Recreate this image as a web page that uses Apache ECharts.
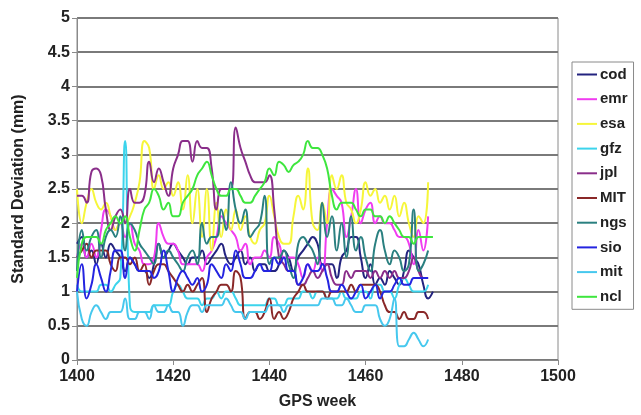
<!DOCTYPE html>
<html>
<head>
<meta charset="utf-8">
<script src="https://cdn.jsdelivr.net/npm/echarts@6/dist/echarts.min.js"></script>
<style>
html,body{margin:0;padding:0;background:#fff;}
#chart{width:641px;height:415px;}
</style>
</head>
<body>
<div id="chart"></div>
<script>
const weekStart = 1400;
const xTicks = [1400, 1420, 1440, 1460, 1480, 1500];
const yTicks = [0, 0.5, 1, 1.5, 2, 2.5, 3, 3.5, 4, 4.5, 5];
const seriesNames = ['cod','emr','esa','gfz','jpl','MIT','ngs','sio','mit','ncl'];

const cod = [1.7,1.8,1.5,1.6,1.4,1.7,1.5,1.7,1.6,1.5,1.3,1.5,1.4,1.3,1.3,1.2,1.4,1.7,1.5,1.6,1.7,1.6,1.5,1.4,1.5,1.5,1.6,1.4,1.5,1.6,1.7,1.5,1.4,1.5,1.6,1.4,1.5,1.3,1.4,1.4,1.3,1.3,1.4,1.6,1.5,1.3,1.5,1.6,1.7,1.8,1.7,1.4,1.4,1.4,1.2,1.5,1.6,1.8,1.8,1.5,1.2,1.4,1.1,1.2,1.1,1.3,1.2,1.1,1.3,1.6,1.5,1.4,1.1,0.9,1.0];
const emr = [1.5,1.7,1.5,1.7,1.5,1.9,2.2,2.1,1.9,2.0,1.8,2.0,1.7,1.6,1.4,1.4,1.5,2.0,1.8,1.7,1.7,1.6,1.4,1.4,1.4,1.4,1.3,1.5,1.6,1.8,2.1,2.0,1.9,1.8,1.6,1.7,1.4,1.5,1.5,1.6,1.5,1.8,1.7,1.5,1.5,1.5,1.4,1.2,1.4,1.3,1.5,1.3,2.0,2.5,2.4,2.3,1.8,2.1,2.5,2.0,2.2,2.3,2.0,2.1,2.0,2.0,1.9,1.8,1.8,1.7,1.4,1.9,1.6,2.1];
const esa = [2.5,2.0,2.3,2.5,2.3,2.2,2.3,2.1,1.9,2.0,2.0,2.1,2.3,2.6,3.2,3.1,2.5,2.7,2.5,2.6,2.4,2.6,2.2,2.7,2.0,2.5,1.8,2.5,1.6,2.3,1.8,2.2,1.9,2.2,1.9,2.1,1.8,1.7,1.9,2.0,2.4,2.1,1.8,1.7,1.7,2.1,2.4,2.2,2.8,2.0,1.9,2.3,2.0,2.7,2.5,2.7,2.3,2.2,2.0,2.2,2.6,2.4,2.5,2.3,2.4,2.2,2.4,2.1,2.3,2.0,1.8,2.1,2.0,2.6];
const gfz = [1.1,1.0,1.0,1.0,1.0,1.1,1.1,1.0,1.1,1.2,3.2,0.8,0.7,0.7,0.7,0.7,0.8,0.8,0.8,0.8,1.0,1.1,1.0,0.9,0.9,0.9,0.8,0.9,0.9,1.0,0.9,1.0,1.0,0.9,0.8,0.8,0.8,0.8,0.8,0.8,0.9,0.9,0.8,0.8,0.9,0.9,0.9,1.0,1.0,0.9,1.0,1.0,0.9,0.9,0.9,1.0,0.9,0.9,0.9,1.0,1.0,0.9,1.1,1.1,1.0,1.0,0.9,1.1,1.2,1.1,1.0,1.0,1.0,1.1];
const jpl = [2.4,2.4,2.3,2.75,2.8,2.7,2.2,1.9,2.1,2.2,2.0,2.5,2.3,2.3,2.4,2.9,2.6,2.8,2.6,2.4,2.8,3.0,3.2,3.2,2.9,3.2,3.1,3.1,2.8,2.2,2.5,2.5,2.5,3.4,3.1,2.9,2.7,2.6,2.6,2.6,2.7,2.2,1.5,1.4,1.3,1.3,1.1,1.1,1.2,1.3,1.2,1.3,1.4,1.2,1.1,1.1,1.3,1.2,1.3,1.3,1.3,1.2,1.3,1.2,1.3,1.2,1.3,1.2,1.2,1.3,1.5,1.3,1.2,1.2];
const MIT = [1.5,1.6,1.7,1.5,1.6,1.6,1.6,1.4,1.3,1.5,1.5,1.4,1.5,1.3,1.4,1.1,1.3,1.4,1.4,1.3,1.2,1.1,1.0,1.1,1.0,1.1,1.2,0.7,0.9,1.0,1.1,1.1,1.0,1.3,1.2,0.6,0.7,0.7,0.6,0.7,0.9,0.6,0.7,0.6,0.7,0.9,1.0,1.1,1.0,1.0,1.0,1.0,0.9,1.0,1.0,1.0,1.0,1.1,1.0,1.1,1.1,1.1,1.1,1.0,0.8,0.7,0.7,0.6,0.7,0.6,0.6,0.7,0.7,0.6];
const ngs = [1.3,1.9,1.6,1.8,1.9,1.5,1.8,1.9,1.8,2.1,1.6,2.0,1.9,1.7,1.6,1.5,1.4,1.7,1.5,1.6,1.5,1.4,1.3,1.5,1.6,1.4,2.0,1.7,1.8,1.8,2.2,1.9,2.6,2.2,2.0,2.2,1.8,1.9,2.0,2.4,1.4,1.5,1.5,1.6,1.4,1.2,1.7,1.8,1.7,1.6,1.4,2.3,1.8,2.1,1.6,2.0,1.5,2.1,1.6,1.8,1.5,1.3,1.7,1.9,1.6,1.4,1.6,1.5,1.3,1.4,2.2,1.3,1.4,1.6];
const sio = [1.0,1.4,0.9,1.1,1.4,1.2,1.0,1.3,1.6,1.6,1.2,1.5,1.4,1.3,1.3,1.3,1.2,1.3,1.6,1.3,1.0,1.2,1.3,1.2,1.1,1.2,1.0,1.1,1.4,1.3,1.2,1.4,1.3,1.6,1.4,1.2,1.2,1.3,1.4,1.3,1.3,1.5,1.4,1.5,1.3,1.3,1.1,1.2,1.4,1.3,1.3,1.4,1.2,1.0,1.0,1.1,1.0,0.9,1.0,1.1,0.9,1.0,1.1,0.9,1.0,1.0,1.1,1.2,1.1,1.1,1.2,1.2,1.2,1.2];
const mit = [1.0,0.6,0.5,0.7,0.8,0.7,0.6,0.7,0.7,0.7,0.9,0.6,0.6,0.7,0.7,0.6,0.8,0.7,0.7,0.8,0.7,0.7,0.5,0.7,0.8,0.8,0.7,0.8,0.8,0.8,0.8,0.9,0.8,0.7,0.7,0.6,0.7,0.7,0.7,0.7,0.8,0.8,0.8,0.7,0.8,0.8,0.8,0.8,0.8,0.8,0.8,0.9,0.9,0.9,0.8,0.8,0.9,0.8,0.7,0.7,0.8,0.8,0.8,0.6,0.5,0.6,0.9,0.2,0.2,0.3,0.4,0.3,0.2,0.3];
const ncl = [1.2,1.7,1.8,1.8,1.8,1.7,1.9,2.0,2.1,2.0,2.1,1.8,1.6,1.9,2.2,2.3,2.5,2.4,2.2,2.3,2.1,2.1,2.3,2.4,2.5,2.7,2.8,2.9,2.7,2.5,2.4,2.4,2.5,2.5,2.4,2.3,2.3,2.4,2.5,2.6,2.8,2.7,2.9,2.85,2.75,2.85,2.9,3.0,3.2,3.1,3.1,3.0,2.8,2.4,2.2,2.3,2.3,2.3,2.2,2.1,2.2,2.2,2.1,2.1,2.0,2.1,2.0,1.9,1.8,1.8,1.7,1.8,1.8,1.8,1.8];

const seriesValues = {cod, emr, esa, gfz, jpl, MIT, ngs, sio, mit, ncl};
const colors = ['#23237f','#f03cf0','#f6f63a','#3cd4ec','#8a2e8a','#8a2828','#2a8080','#2424e0','#46c8ee','#3ee63e'];

const chart = echarts.init(document.getElementById('chart'));
const font = '"Liberation Sans", Arial, sans-serif';

const series = seriesNames.map((name, i) => ({
  name,
  type: 'line',
  smooth: 0.5,
  showSymbol: false,
  symbol: 'none',
  lineStyle: { width: 2, color: colors[i] },
  itemStyle: { color: colors[i] },
  data: seriesValues[name].map((v, k) => [weekStart + k, v])
}));

chart.setOption({
  animation: false,
  backgroundColor: '#fff',
  grid: {
    left: 77, right: 83, top: 18, bottom: 55,
    show: true, borderColor: '#8a8a8a', borderWidth: 1, backgroundColor: 'transparent'
  },
  legend: {
    orient: 'vertical',
    left: 572, top: 62,
    width: 61,
    padding: [5, 6, 5, 5],
    itemGap: 9.7,
    itemWidth: 20, itemHeight: 2,
    icon: 'rect',
    borderColor: '#8a8a8a', borderWidth: 1,
    backgroundColor: '#fff',
    textStyle: { fontFamily: font, fontSize: 15, fontWeight: 'bold', color: '#222', padding: [0,0,0,-2] },
    data: seriesNames
  },
  xAxis: {
    type: 'value',
    min: xTicks[0], max: xTicks[xTicks.length - 1], interval: 20,
    name: 'GPS week', nameLocation: 'middle', nameGap: 34,
    nameTextStyle: { fontFamily: font, fontSize: 16, fontWeight: 'bold', color: '#222' },
    axisLine: { show: true, lineStyle: { color: '#8a8a8a', width: 1 } },
    axisTick: { show: true, length: 5, lineStyle: { color: '#8a8a8a' } },
    axisLabel: { fontFamily: font, fontSize: 16, fontWeight: 'bold', color: '#222', margin: 9,
      formatter: v => String(v) },
    splitLine: { show: false }
  },
  yAxis: {
    type: 'value',
    min: yTicks[0], max: yTicks[yTicks.length - 1], interval: 0.5,
    name: 'Standard Deviation (mm)', nameLocation: 'middle', nameGap: 50,
    nameTextStyle: { fontFamily: font, fontSize: 16, fontWeight: 'bold', color: '#222' },
    axisLine: { show: true, lineStyle: { color: '#8a8a8a', width: 1 } },
    axisTick: { show: true, length: 5, lineStyle: { color: '#8a8a8a' } },
    axisLabel: { fontFamily: font, fontSize: 16, fontWeight: 'bold', color: '#222', margin: 7 },
    splitLine: { show: true, lineStyle: { color: '#7a7a7a', width: 2 } }
  },
  series
});
</script>
</body>
</html>
